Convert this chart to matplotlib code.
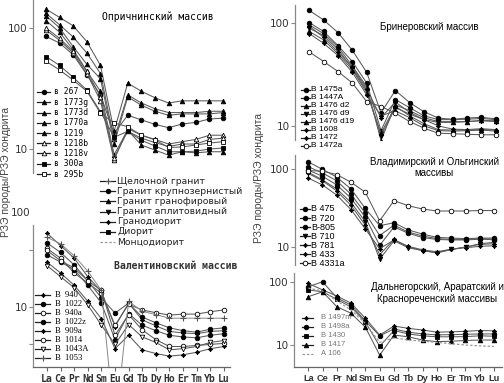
import numpy as np
import matplotlib.pyplot as plt
from matplotlib.lines import Line2D
from matplotlib.ticker import NullLocator

W, H = 504, 383

elements = ['La', 'Ce', 'Pr', 'Nd', 'Sm', 'Eu', 'Gd', 'Tb', 'Dy', 'Ho', 'Er', 'Tm', 'Yb', 'Lu']

# Опричнинский массив
opr_labels = ['в 267', 'в 1773g', 'в 1773d', 'в 1770a', 'в 1219', 'в 1218b', 'в 1218v', 'в 300a', 'в 295b']
opr_values = [
    [85, 75, 60, 41, 28, 13.5, 19, 17.4, 16, 15, 16.1, 16.6, 17.7, 18],
    [143, 122, 104, 77, 49, 14, 35, 30, 26.5, 24, 25, 25, 25, 25],
    [132, 106, 84, 62, 42, 12, 28, 24, 21.5, 20, 20, 20, 20.5, 20.5],
    [126, 100, 70, 50, 38, 11, 27, 23, 20.5, 19, 19.5, 19.5, 19.5, 20],
    [115, 92, 66, 44, 30, 9, 14.3, 10.8, 9.8, 8.9, 9.5, 9.3, 9.5, 9.5],
    [96, 79, 62, 42, 25, 8.1, 14.8, 13, 12, 11, 11.5, 12, 13, 13],
    [100, 82, 64, 44, 27, 8.5, 14, 12.3, 11.3, 10.5, 11, 11, 12, 12.3],
    [58, 49, 39, 30.7, 20.3, 12.5, 14, 11.8, 10.6, 9.5, 9.5, 9.6, 10, 10.2],
    [53, 45, 37, 30, 19.8, 16.4, 15.3, 13, 11.9, 10.3, 10.4, 10.8, 11.2, 11.5],
]
opr_markers = ['o', '^', '^', '^', '^', '^', '^', 's', 's']
opr_filled = [True, True, True, True, True, False, False, True, False]

# Валентиновский массив
val_labels = ['В  940', 'В  1022', 'В  940a', 'В  1022z', 'В  909a', 'В  1014', 'В  1043A', 'В  1053']
val_values = [
    [61, 45, 33, 21, 14.6, 6.2, 11, 7.3, 6.3, 5.5, 5.3, 5.2, 5.5, 5.6],
    [48, 38, 28, 19, 12.5, 8.6, 11, 7.8, 6.8, 6.0, 5.6, 5.4, 5.8, 6.0],
    [42, 33, 23, 18, 14, 6.4, 10.7, 9.3, 8.7, 8.2, 8.4, 8.4, 8.9, 9.3],
    [36, 30, 25, 17, 11, 4.5, 8.5, 6.4, 5.6, 5.0, 4.8, 4.7, 5.0, 5.2],
    [30, 23, 17, 11.5, 7.5, 3.6, 5.0, 3.5, 3.2, 3.0, 3.1, 3.3, 3.6, 3.8],
    [40, 31, 26, 19, 15, 5.0, 8.3, 5.7, 4.5, 3.8, 3.8, 3.9, 4.0, 4.1],
    [27.5, 21, 16, 10.5, 6.4, 4.0, 6.5, 4.8, 4.2, 3.5, 3.6, 3.8, 4.2, 4.4],
    [55, 47, 35, 24, 15, 0.5, 11.5, 9, 8.3, 7.6, 7.6, 7.6, 7.6, 7.6],
]
val_markers = [(4, 1, 0), 'o', 'o', 'o', (4, 1, 0), 'o', 'v', '+']
val_filled = [True, True, False, True, True, False, False, True]

# Бринеровский массив
brin_labels = ['В 1475a', 'В 1447A', 'В 1476 d2', 'В 1476 d9', 'В 1476 d19', 'В 1608', 'В 1472', 'В 1472a']
brin_values = [
    [131, 106, 80, 54, 33, 13.4, 22, 16.8, 13.7, 11.9, 11.6, 11.9, 12.1, 11.7],
    [100, 82, 60, 42, 26, 9, 18, 15, 12.5, 11.5, 11.5, 11.6, 11.8, 11.5],
    [95, 78, 58, 38, 24, 7.2, 16, 14, 12, 11, 11, 11, 11.3, 11.2],
    [88, 75, 55, 36, 22, 8, 15, 13, 11.5, 10.8, 10.8, 11, 11.2, 11],
    [82, 68, 50, 35, 21, 8.5, 15.5, 12.5, 10.5, 9.2, 9.1, 9.1, 9.2, 9.1],
    [92, 72, 52, 37, 23, 12, 17, 13.5, 11.5, 10, 9.3, 9.2, 9.4, 9.2],
    [78, 63, 48, 33, 20, 12.5, 14, 12, 10, 9, 8.9, 9, 9.1, 8.9],
    [52, 42, 33.6, 26, 17.2, 15.4, 13.3, 11, 9.5, 8.5, 8.4, 8.3, 8.2, 8.2],
]
brin_markers = ['o', 'o', '^', 'v', '^', (4, 1, 0), (4, 1, 0), 'o']
brin_filled = [True, True, True, True, True, True, True, False]

# Владимирский и Ольгинский массивы
vlad_labels = ['В 475', 'В 720', 'В-805', 'В 710', 'В 781', 'В 433', 'В 4331a']
vlad_values = [
    [122, 98, 78, 55, 31, 18.7, 20.4, 16.5, 14.6, 13.3, 13, 12.8, 13, 13],
    [106, 88, 70, 47, 27, 14, 19, 15.5, 13.8, 12.8, 12.5, 12.5, 12.8, 12.6],
    [96, 80, 62, 42, 24, 10.5, 18, 15, 13.2, 12.5, 12.3, 12.3, 12.6, 12.4],
    [90, 72, 55, 37, 21, 7.0, 12, 9.8, 9, 8.5, 9.3, 10, 11, 11.5],
    [87, 70, 52, 34, 19, 8, 12.5, 10, 9, 8.4, 9.3, 10, 10.8, 11],
    [76, 62, 46, 30, 17, 9.5, 12.3, 10.2, 9.2, 8.7, 9.4, 9.8, 10.2, 10.4],
    [94, 93, 84, 67, 50, 21.6, 39, 33.6, 30.5, 28.8, 28.8, 28.8, 29.2, 29.2],
]
vlad_markers = ['o', 'o', 'o', 'v', (4, 1, 0), (4, 1, 0), 'o']
vlad_filled = [True, True, True, True, True, True, False]

# Дальнегорский, Араратский и Краснореченский массивы
daln_labels = ['В 1497m', 'В 1498a', 'В 1430', 'В 1417', 'А 106']
daln_values = [
    [95, 75, 60, 46, 26.5, 14.4, 20, 18.4, 17.3, 16, 16.2, 16.5, 17, 16.8],
    [84, 101, 56, 43, 24, 14, 18, 16, 15, 14.5, 14.6, 14.8, 15, 15],
    [75, 70, 53, 40, 23, 9.6, 17, 15, 14, 13.5, 13.5, 13.6, 14, 13.8],
    [58.5, 70, 40.5, 31.9, 19.1, 6.9, 14.4, 13.5, 12, 11.3, 11.5, 11.8, 12, 12],
    [80, 72, 50, 36, 22, 11, 13, 12, 11.5, 11, 10.5, 10, 9.7, 9.5],
]
daln_markers = [(4, 1, 0), 'o', 's', '^', None]
daln_filled = [True, True, True, True, True]

rock_labels = ['Щелочной гранит', 'Гранит крупнозернистый', 'Гранит гранофировый',
               'Гранит аплитовидный', 'Гранодиорит', 'Диорит', 'Монцодиорит']
rock_markers = ['+', 'o', '^', 'v', (4, 1, 0), 's', None]

MONO = 'DejaVu Sans Mono'
SANS = 'Liberation Sans'
SERIF = 'Liberation Serif'

fig = plt.figure(figsize=(W / 100, H / 100), dpi=100)


def fx(px):
    return px / W


def fy(py):
    return 1 - py / H


def style_kw(marker, filled):
    if marker is None:
        return dict(marker=None, color='#999999', lw=0.9, ls=(0, (2, 1.5)))
    if marker == '+':
        return dict(marker='+', ms=4.5, mew=0.8, color='#888888', mec='#555555', lw=0.7)
    return dict(marker=marker, ms=3.3, mew=0.6, color='#5a5a5a', lw=0.75,
                mec='black', mfc='black' if filled else 'white')


def panel(box, la_px, step_px, ylim, values, markers, filled, bottom=False):
    x0, y0, x1, y1 = box
    ax = fig.add_axes([fx(x0), fy(y1), (x1 - x0) / W, (y1 - y0) / H])
    ax.set_facecolor('none')
    xs = np.arange(len(elements))
    for vals, m, f in zip(values, markers, filled):
        ax.plot(xs, vals, **style_kw(m, f))
    ax.set_yscale('log')
    ax.set_ylim(*ylim)
    ax.set_xlim((x0 - la_px) / step_px, (x1 - la_px) / step_px)
    for s in ['top', 'right']:
        ax.spines[s].set_visible(False)
    ax.spines['left'].set_color('#888888')
    ax.spines['left'].set_linewidth(0.9)
    ax.yaxis.set_minor_locator(NullLocator())
    ax.tick_params(axis='y', length=3, width=0.8, color='#888888', labelsize=7.5,
                   labelcolor='#333333', pad=1)
    if bottom:
        ax.spines['bottom'].set_color('#666666')
        ax.spines['bottom'].set_linewidth(0.9)
        ax.set_xticks(xs)
        ax.tick_params(axis='x', length=3, width=0.8, color='#666666', pad=2)
    else:
        ax.spines['bottom'].set_visible(False)
        ax.set_xticks([])
    return ax


def legend_rows(x0, x1, tx, y_first, dy, labels, markers, filled, size, family, tcolor='black', mx=None):
    for i, (lab, m, f) in enumerate(zip(labels, markers, filled)):
        y = y_first + i * dy
        kw = style_kw(m, f)
        lc = kw.pop('color')
        ls = kw.pop('ls', '-')
        lw = kw.pop('lw')
        if m is None:
            fig.add_artist(Line2D([fx(x0), fx(x1)], [fy(y), fy(y)], color=lc, lw=lw, ls=ls))
        else:
            fig.add_artist(Line2D([fx(x0), fx(x1)], [fy(y), fy(y)], color='#222222', lw=0.9))
            xm = (x0 + x1) / 2 if mx is None else mx
            fig.add_artist(Line2D([fx(xm)], [fy(y)], ls='none', **kw))
        fig.text(fx(tx), fy(y), lab, va='center', ha='left', fontsize=size, family=family, color=tcolor)


# --- Опричнинский (top left)
ax1 = panel((33, 0, 230, 173), 46, 13.62, (6.34, 170), opr_values, opr_markers, opr_filled)
ax1.set_yticks([10, 100])
ax1.set_yticklabels(['10', '100'])
fig.text(fx(158), fy(17), 'Опричнинский массив', ha='center', va='center', fontsize=7, family=MONO)
legend_rows(37, 50, 54, 92, 10.25, opr_labels, opr_markers, opr_filled, 5.8, MONO)

# --- Валентиновский (bottom left)
ax2 = panel((33, 225, 230, 367), 47, 13.6, (2.30, 74.5), val_values, val_markers, val_filled, bottom=True)
ax2.set_yticks([4, 10, 40])
ax2.set_yticklabels(['', '10', ''])
ax2.set_xticklabels(elements, fontsize=7, family=MONO, fontweight='bold', color='#333333')
fig.text(fx(30), fy(213), '100', ha='right', va='center', fontsize=7.5, color='#333333')
fig.text(fx(176), fy(266), 'Валентиновский массив', ha='center', va='center', fontsize=7,
         family=MONO, fontweight='bold', color='#333333')
legend_rows(35, 50, 55, 295, 9.0, val_labels, val_markers, val_filled, 6.2, SERIF)

# rock type key
legend_rows(100, 115, 117, 181, 10.2, rock_labels, rock_markers, [True] * 7, 6.7, 'DejaVu Sans', tcolor='#222222')

# --- Бринеровский (top right)
ax3 = panel((295, 5, 502, 140), 309.3, 14.34, (7.3, 148), brin_values, brin_markers, brin_filled)
ax3.set_yticks([10, 100])
ax3.set_yticklabels(['10', '100'])
fig.text(fx(429), fy(27), 'Бринеровский массив', ha='center', va='center', fontsize=7, family=SANS)
legend_rows(301, 310, 311, 89.5, 8.05, brin_labels, brin_markers, brin_filled, 6, SANS)

# --- Владимирский и Ольгинский (middle right)
ax4 = panel((295, 155, 502, 265), 308, 14.33, (5.9, 149), vlad_values, vlad_markers, vlad_filled)
ax4.set_yticks([10, 100])
ax4.set_yticklabels(['10', '100'])
fig.text(fx(434), fy(167.5), 'Владимирский и Ольгинский\nмассивы', ha='center', va='center',
         fontsize=7, family=SANS, linespacing=1.15)
legend_rows(300, 310, 311, 209, 9.05, vlad_labels, vlad_markers, vlad_filled, 6.5, SANS)

# --- Дальнегорский, Араратский, Краснореченский (bottom right)
ax5 = panel((294, 273, 502, 367), 308.3, 14.28, (4.48, 139), daln_values, daln_markers, daln_filled, bottom=True)
ax5.set_yticks([10, 100])
ax5.set_yticklabels(['10', '100'])
ax5.set_xticklabels(elements, fontsize=6.6, family=SANS, fontweight='bold', color='#333333')
fig.text(fx(437), fy(293), 'Дальнегорский, Араратский и\nКраснореченский массивы', ha='center',
         va='center', fontsize=7, family=SANS, linespacing=1.2)
legend_rows(302, 313, 321, 317.5, 9.0, daln_labels, daln_markers, daln_filled, 5.5, SANS,
            tcolor='#777777', mx=306)

# y axis titles
fig.text(fx(6), fy(172), 'РЗЭ породы/РЗЭ хондрита', rotation=90, ha='center', va='center',
         fontsize=7.5, family=SANS, color='#444444')
fig.text(fx(259), fy(178), 'РЗЭ породы/РЗЭ хондрита', rotation=90, ha='center', va='center',
         fontsize=7.5, family=SANS, color='#444444')

fig.savefig('out.png', dpi=100)
